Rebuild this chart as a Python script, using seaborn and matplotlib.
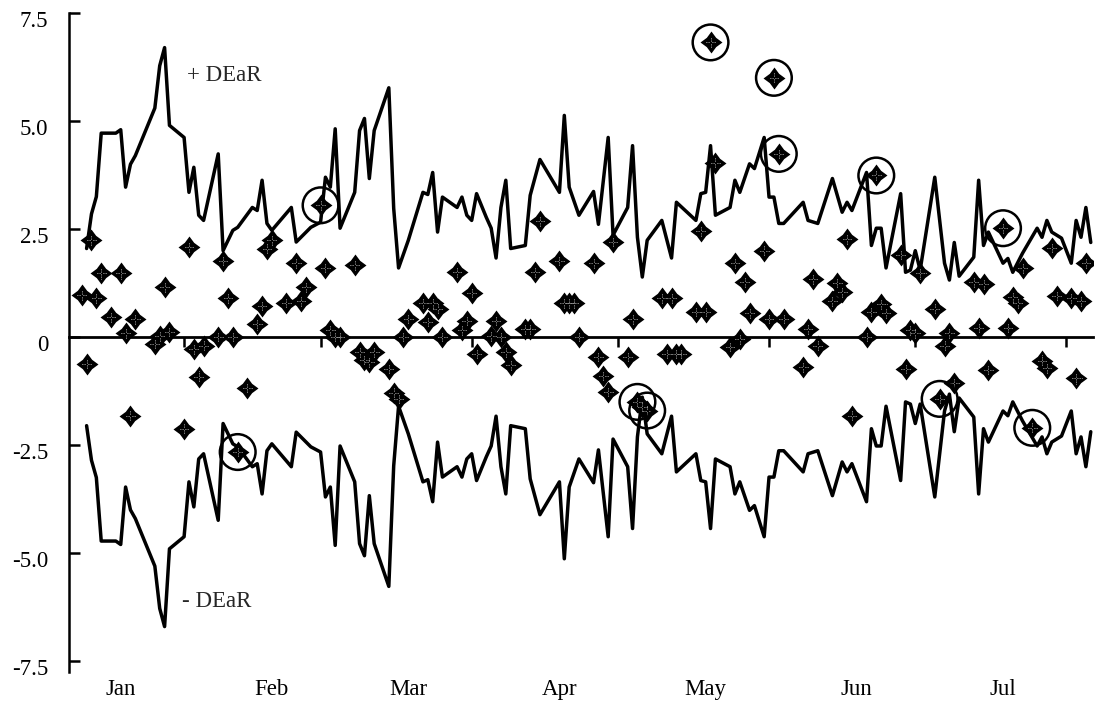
import numpy as np
import pandas as pd
import matplotlib
matplotlib.use("Agg")
import matplotlib.pyplot as plt
import matplotlib.transforms as mtransforms
from matplotlib.path import Path
import seaborn as sns

# day of year (2001) and +DEaR band value; the lower band is the mirror image
band_day = [12, 13, 14, 15, 18, 19, 20, 21, 22, 26, 27, 28, 29, 32, 33, 34, 35, 36,
            39, 40, 42, 43, 46, 47, 48, 49, 50, 54, 55, 58, 60, 61, 62, 63, 64, 67,
            68, 69, 70, 71, 74, 75, 76, 78, 81, 82, 83, 84, 85, 88, 89, 90, 91, 92,
            94, 95, 96, 97, 98, 99, 102, 103, 105, 109, 110, 111, 113, 116, 117, 119,
            120, 123, 124, 125, 126, 127, 130, 132, 133, 137, 138, 139, 140, 141, 144,
            145, 146, 148, 149, 151, 152, 153, 154, 155, 159, 160, 162, 165, 167, 168,
            169, 172, 173, 174, 175, 176, 179, 180, 181, 182, 183, 186, 188, 189, 190,
            191, 194, 195, 196, 197, 200, 201, 202, 204, 207, 208, 209, 210, 212, 214,
            215, 216, 217, 218]
band_val = [2.05, 2.85, 3.25, 4.72, 4.72, 4.80, 3.47, 4.00, 4.20, 5.30, 6.28, 6.70, 4.90,
            4.62, 3.35, 3.93, 2.82, 2.70, 4.24, 2.00, 2.47, 2.54, 3.00, 2.93, 3.63, 2.63,
            2.47, 3.00, 2.20, 2.54, 2.66, 3.70, 3.47, 4.82, 2.52, 3.35, 4.78, 5.06, 3.67,
            4.78, 5.77, 2.98, 1.60, 2.24, 3.35, 3.30, 3.81, 2.43, 3.24, 3.00, 3.24, 2.82,
            2.70, 3.32, 2.77, 2.52, 1.83, 3.00, 3.63, 2.05, 2.12, 3.28, 4.11, 3.35, 5.13,
            3.47, 2.82, 3.37, 2.61, 4.62, 2.36, 3.00, 4.43, 2.31, 1.39, 2.24, 2.70, 1.83,
            3.12, 2.70, 3.32, 3.35, 4.43, 2.82, 3.00, 3.63, 3.35, 4.01, 3.90, 4.62, 3.24,
            3.24, 2.63, 2.63, 3.12, 2.70, 2.63, 3.67, 2.89, 3.12, 2.93, 3.81, 2.12, 2.52,
            2.52, 1.60, 3.32, 1.50, 1.55, 2.00, 1.55, 3.70, 1.71, 1.32, 2.19, 1.41, 1.85,
            3.63, 2.12, 2.43, 1.71, 1.82, 1.50, 1.94, 2.52, 2.31, 2.70, 2.43, 2.29, 1.71,
            2.70, 2.31, 3.00, 2.19]

# daily earnings deviations
obs_day = [11, 12, 13, 14, 15, 17, 19, 20, 21, 22, 26, 27, 28, 29, 32, 33, 34, 35, 36,
           39, 40, 41, 42, 43, 45, 47, 48, 49, 50, 53, 55, 56, 57, 60, 61, 62, 63, 64,
           67, 68, 69, 70, 71, 74, 75, 76, 77, 78, 81, 82, 83, 84, 85, 88, 89, 90, 91,
           92, 95, 96, 97, 98, 99, 102, 103, 104, 105, 109, 110, 111, 112, 113, 116,
           117, 118, 119, 120, 123, 124, 125, 126, 127, 130, 131, 132, 133, 134, 137,
           138, 139, 140, 141, 144, 145, 146, 147, 148, 151, 152, 153, 154, 155, 159,
           160, 161, 162, 165, 166, 167, 168, 169, 172, 173, 174, 175, 176, 179, 180,
           181, 182, 183, 186, 187, 188, 189, 190, 194, 195, 196, 197, 200, 201, 202,
           203, 204, 206, 208, 209, 210, 211, 214, 215, 216, 217]
obs_val = [0.97, -0.62, 2.24, 0.90, 1.48, 0.46, 1.48, 0.09, -1.82, 0.41, -0.16, 0.02,
           1.15, 0.12, -2.12, 2.08, -0.28, -0.92, -0.20, 0.00, 1.76, 0.90, 0.00, -2.66,
           -1.18, 0.30, 0.72, 2.05, 2.24, 0.79, 1.71, 0.83, 1.15, 3.05, 1.60, 0.16, 0.00,
           0.00, 1.66, -0.35, -0.53, -0.58, -0.35, -0.74, -1.29, -1.43, 0.00, 0.42, 0.78,
           0.35, 0.78, 0.66, 0.00, 1.50, 0.16, 0.37, 1.02, -0.39, 0.02, 0.37, 0.00, -0.35,
           -0.65, 0.18, 0.18, 1.50, 2.68, 1.76, 0.78, 0.78, 0.78, 0.00, 1.71, -0.46, -0.90,
           -1.27, 2.20, -0.46, 0.41, -1.50, -1.62, -1.70, 0.90, -0.39, 0.90, -0.39, -0.39,
           0.58, 2.45, 0.58, 6.82, 4.04, -0.23, 1.71, -0.05, 1.27, 0.55, 2.00, 0.42, 6.00,
           4.24, 0.42, -0.70, 0.18, 1.34, -0.20, 0.83, 1.25, 1.04, 2.26, -1.82, 0.00, 0.58,
           3.74, 0.76, 0.55, 1.90, -0.74, 0.16, 0.09, 1.48, 0.66, -1.43, -0.20, 0.09,
           -1.06, 1.27, 0.21, 1.22, -0.76, 2.52, 0.21, 0.92, 0.78, 1.59, -2.10, -0.55,
           -0.72, 2.06, 0.95, 0.90, -0.95, 0.83, 1.71]

# days on which the deviation broke through the band
breach_day = [43, 60, 125, 127, 140, 153, 154, 174, 187, 200, 206]

month_names = ["Jan", "Feb", "Mar", "Apr", "May", "Jun", "Jul"]
y_ticks = [7.5, 5.0, 2.5, 0, -2.5, -5.0, -7.5]
y_labels = ["7.5", "5.0", "2.5", "0", "-2.5", "-5.0", "-7.5"]

start = pd.Timestamp("2001-01-01")


def to_date(days):
    return start + pd.to_timedelta(np.asarray(days) - 1, unit="D")


band = pd.DataFrame({"date": to_date(band_day), "upper": band_val})
band["lower"] = -band["upper"]
obs = pd.DataFrame({"date": to_date(obs_day), "dev": obs_val})
obs["breach"] = obs.index.isin([obs_day.index(d) for d in breach_day])

sns.set_theme(style="white")
plt.rcParams["font.family"] = ["Liberation Serif", "DejaVu Serif"]
fs = 16.5

fig = plt.figure(figsize=(10.96, 7.04), dpi=100)
ax = fig.add_axes([0.063, 0.0455, 0.934, 0.936])

sns.lineplot(data=band, x="date", y="upper", color="black", lw=2.5, ax=ax, zorder=2)
sns.lineplot(data=band, x="date", y="lower", color="black", lw=2.5, ax=ax, zorder=2)

# fat four pointed star marker with a white dotted cross in it
ang = np.deg2rad(np.arange(0, 360, 45))
rad = np.where(np.arange(8) % 2 == 0, 1.0, 0.6)
pts = np.column_stack([rad * np.sin(ang), rad * np.cos(ang)])
star = Path(np.vstack([pts, pts[:1]]), closed=True)
cross = Path([(0.15, 0), (0.6, 0), (-0.15, 0), (-0.6, 0),
              (0, 0.15), (0, 0.6), (0, -0.15), (0, -0.6)],
             [Path.MOVETO, Path.LINETO] * 4)

sns.scatterplot(data=obs, x="date", y="dev", marker=star, s=250, color="black",
                edgecolor="black", linewidth=0, ax=ax, zorder=3)
ax.scatter(obs["date"], obs["dev"], marker=cross, s=60, facecolors="none",
           edgecolors="white", linewidths=0.6, linestyles=":", zorder=4)
hit = obs[obs["breach"]]
ax.scatter(hit["date"], hit["dev"], marker="o", s=660, facecolors="none",
           edgecolors="black", linewidths=1.8, zorder=5)

ax.text(to_date([32.5])[0], 6.05, "+ DEaR", fontsize=fs, ha="left", va="center")
ax.text(to_date([31.5])[0], -6.11, "- DEaR", fontsize=fs, ha="left", va="center")

ax.set_xlim(start + pd.Timedelta(days=7.4), start + pd.Timedelta(days=217.4))
ax.set_ylim(-7.75, 7.5)
ax.set_xlabel("")
ax.set_ylabel("")

# x axis sits on the zero line, ticks at month starts
ax.spines["bottom"].set_position(("data", 0))
ax.spines["bottom"].set_linewidth(2.0)
ax.spines["left"].set_linewidth(1.8)
ax.spines["top"].set_visible(False)
ax.spines["right"].set_visible(False)
for s in ["bottom", "left"]:
    ax.spines[s].set_color("black")

ax.set_xticks([pd.Timestamp(2001, m, 1) for m in range(2, 9)])
ax.tick_params(axis="x", direction="out", length=7, width=1.8, color="black",
               labelbottom=False, bottom=True)
ax.set_yticks(y_ticks)
ax.set_yticklabels(y_labels)
ax.tick_params(axis="y", direction="in", length=8, width=1.8, color="black",
               labelsize=fs, labelcolor="black", pad=15, left=True)

shift = mtransforms.ScaledTranslation(0, -4 / 72, fig.dpi_scale_trans)
for lbl in ax.get_yticklabels():
    lbl.set_transform(lbl.get_transform() + shift)

trans = mtransforms.blended_transform_factory(ax.transData, ax.transAxes)
for m, name in enumerate(month_names, start=1):
    ax.text(pd.Timestamp(2001, m, 19), -0.027, name, transform=trans,
            ha="center", va="center", fontsize=fs, color="black", clip_on=False)

fig.savefig("out.png", dpi=100)
